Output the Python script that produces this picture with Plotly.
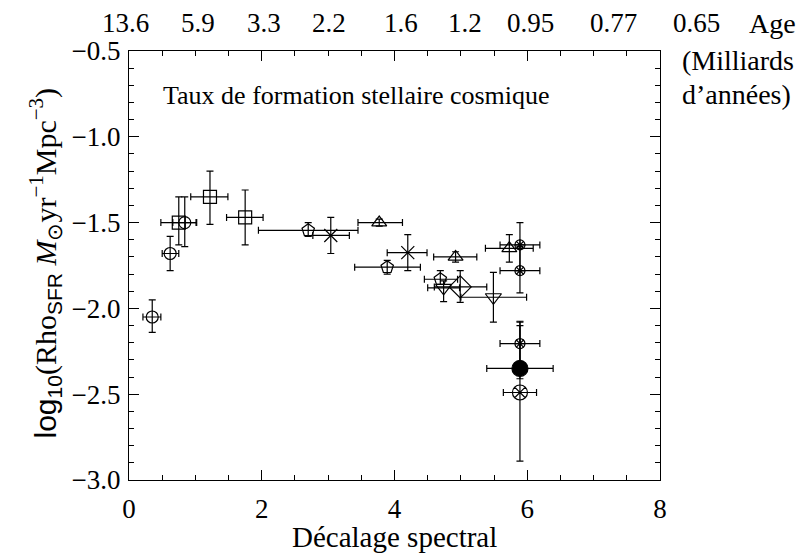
import numpy as np
import plotly.graph_objects as go

# ---------------- data ----------------
z        = [0.35, 0.62, 0.84, 0.75, 1.22, 1.75, 2.70, 3.89, 4.69, 3.04, 4.20, 3.77, 4.92, 5.73,
            4.74, 5.49, 4.99, 5.89, 5.89, 5.89, 5.89, 5.89]
log_rho  = [-2.05, -1.68, -1.50, -1.50, -1.35, -1.47, -1.545, -1.76, -1.83, -1.575, -1.675, -1.50, -1.70, -1.65,
            -1.88, -1.935, -1.875, -1.63, -1.78, -2.205, -2.35, -2.49]
z_low    = [0.21, 0.50, 0.66, 0.48, 0.93, 1.47, 1.95, 3.40, 4.45, 2.77, 3.89, 3.45, 4.59, 5.37,
            4.50, 5.00, 4.60, 5.59, 5.59, 5.59, 5.39, 5.64]
z_high   = [0.48, 0.75, 1.02, 1.01, 1.49, 2.02, 3.45, 4.39, 4.95, 3.32, 4.49, 4.12, 5.24, 6.09,
            4.98, 5.99, 5.39, 6.19, 6.19, 6.19, 6.39, 6.14]
rho_low  = [-2.14, -1.78, -1.64, -1.63, -1.51, -1.63, -1.58, -1.80, -1.86, -1.68, -1.78, -1.52, -1.73, -1.73,
            -1.96, -2.08, -1.965, -1.78, -1.91, -2.32, -2.41, -2.89]
rho_high = [-1.95, -1.58, -1.35, -1.35, -1.20, -1.31, -1.50, -1.72, -1.78, -1.47, -1.57, -1.48, -1.67, -1.57,
            -1.84, -1.79, -1.78, -1.50, -1.64, -2.075, -2.08, -2.10]
sample   = ["s1", "s1", "s1", "s2", "s2", "s2", "s3", "s3", "s3", "s4", "s4", "s5", "s5", "s5",
            "s6", "s6", "s7", "s8", "s8", "s8", "s9", "s10"]

x_ticks = [0, 2, 4, 6, 8]
y_ticks = [-3.0, -2.5, -2.0, -1.5, -1.0, -0.5]
age_z = [0, 1, 2, 3, 4, 5, 6, 7, 8]
age_labels = ["13.6", "5.9", "3.3", "2.2", "1.6", "1.2", "0.95", "0.77", "0.65"]

# ---------------- styles ----------------
SERIF = "Liberation Serif"
SANS = "Liberation Sans"
style = {
    "s1": [dict(symbol="circle-open", size=12)],
    "s2": [dict(symbol="square-open", size=13)],
    "s3": [dict(symbol="pentagon-open", size=13)],
    "s4": [dict(symbol="x-thin-open", size=13)],
    "s5": [dict(symbol="triangle-up-open", size=13)],
    "s6": [dict(symbol="triangle-down-open", size=14)],
    "s7": [dict(symbol="diamond-open", size=17)],
    "s8": [dict(symbol="circle-open", size=10), dict(symbol="asterisk-open", size=9)],
    "s9": [dict(symbol="circle", size=16)],
    "s10": [dict(symbol="circle-x-open", size=15)],
}

z_a = np.array(z); r_a = np.array(log_rho)
zl = np.array(z_low); zh = np.array(z_high)
rl = np.array(rho_low); rh = np.array(rho_high)
s_a = np.array(sample)

fig = go.Figure()
for key, marks in style.items():
    m = s_a == key
    for i, mk in enumerate(marks):
        fig.add_trace(go.Scatter(
            x=z_a[m], y=r_a[m], mode="markers", showlegend=False,
            marker=dict(symbol=mk["symbol"], size=mk["size"], color="black",
                        line=dict(color="black", width=1.2)),
            error_x=dict(type="data", symmetric=False, array=(zh - z_a)[m], arrayminus=(z_a - zl)[m],
                         color="black", thickness=1.2, width=3.5, visible=(i == 0)),
            error_y=dict(type="data", symmetric=False, array=(rh - r_a)[m], arrayminus=(r_a - rl)[m],
                         color="black", thickness=1.2, width=3.5, visible=(i == 0)),
        ))

axis_common = dict(showgrid=False, zeroline=False, showline=True, linecolor="black", linewidth=1.3,
                   ticks="inside", tickcolor="black", tickwidth=1.2, mirror="allticks",
                   automargin=False,
                   tickfont=dict(family=SERIF, size=27, color="black"))

fig.update_xaxes(range=[0, 8], tickvals=x_ticks, ticklen=10,
                 minor=dict(dtick=0.5, ticks="inside", ticklen=5, tickcolor="black", tickwidth=1.2),
                 ticklabelstandoff=4,
                 **axis_common)
fig.update_yaxes(range=[-3.0, -0.5], tickvals=y_ticks, tickformat=".1f", ticklen=10,
                 minor=dict(dtick=0.1, ticks="inside", ticklen=5, tickcolor="black", tickwidth=1.2),
                 ticklabelstandoff=2,
                 **axis_common)

annotations = []
# top age labels (nudges in pixels)
age_nudge = [-4, 3, 2, 1, 6, 4, 3, 20, 36]
for zz, lab, dx in zip(age_z, age_labels, age_nudge):
    annotations.append(dict(x=zz, y=1, xref="x", yref="paper", text=lab, showarrow=False,
                            xanchor="center", yanchor="middle", xshift=dx, yshift=28,
                            font=dict(family=SERIF, size=27, color="black")))
annotations.append(dict(x=1, y=1, xref="paper", yref="paper", text="Age", showarrow=False,
                        xanchor="left", yanchor="middle", xshift=87, yshift=28,
                        font=dict(family=SERIF, size=28, color="black")))
annotations.append(dict(x=1, y=1, xref="paper", yref="paper", text="(Milliards", showarrow=False,
                        xanchor="left", yanchor="middle", xshift=20, yshift=-9,
                        font=dict(family=SERIF, size=28, color="black")))
annotations.append(dict(x=1, y=1, xref="paper", yref="paper", text="d’années)", showarrow=False,
                        xanchor="left", yanchor="middle", xshift=20, yshift=-43,
                        font=dict(family=SERIF, size=28, color="black")))
annotations.append(dict(x=0, y=1, xref="paper", yref="paper", text="Taux de formation stellaire cosmique",
                        showarrow=False, xanchor="left", yanchor="middle", xshift=32, yshift=-44,
                        font=dict(family=SERIF, size=26, color="black")))
annotations.append(dict(x=0.5, y=0, xref="paper", yref="paper", text="Décalage spectral",
                        showarrow=False, xanchor="center", yanchor="middle", yshift=-57,
                        font=dict(family=SERIF, size=29, color="black")))
ytitle = ('<span style="font-family:Liberation Sans">log<sub>10</sub></span>(Rho'
          '<span style="font-family:Liberation Sans"><sub>SFR</sub></span> '
          '<i>M</i><sub>⊙</sub>yr<sup>−1</sup>Mpc<sup>−3</sup>)')
annotations.append(dict(x=0, y=0.5, xref="paper", yref="paper", text=ytitle, showarrow=False,
                        textangle=-90, xanchor="center", yanchor="middle", xshift=-83, yshift=2,
                        font=dict(family=SERIF, size=30, color="black")))

fig.update_layout(width=805, height=554, margin=dict(l=121, r=153, t=43, b=82),
                  paper_bgcolor="white", plot_bgcolor="white", annotations=annotations)

fig.write_html("out.html")
